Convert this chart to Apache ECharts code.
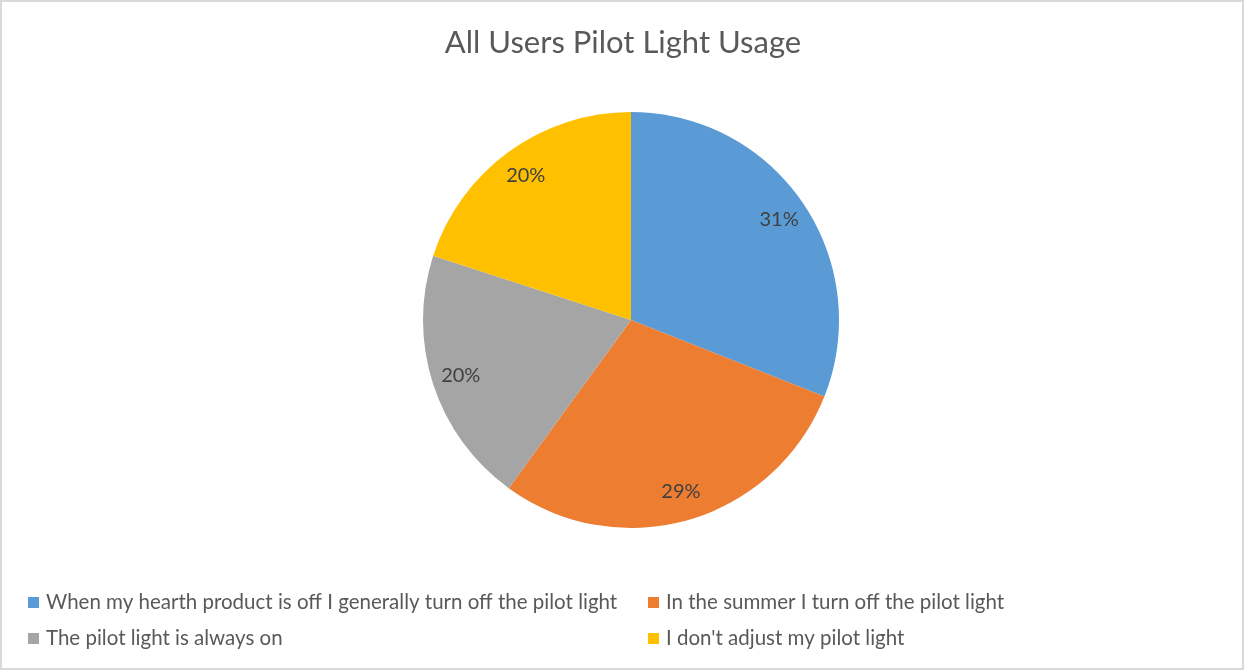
<!DOCTYPE html>
<html>
<head>
<meta charset="utf-8">
<title>All Users Pilot Light Usage</title>
<script src="https://cdn.jsdelivr.net/npm/echarts@6/dist/echarts.min.js"></script>
<style>
  html, body { margin: 0; padding: 0; background: #ffffff; }
  #chart { width: 1246px; height: 672px; }
</style>
</head>
<body>
<div id="chart"></div>
<script>
// Survey answers and their share of respondents (percent)
const categories = [
  'When my hearth product is off I generally turn off the pilot light',
  'In the summer I turn off the pilot light',
  'The pilot light is always on',
  "I don't adjust my pilot light"
];
const shares = [31, 29, 20, 20];
const sliceColors = ['#5B9BD5', '#ED7D31', '#A5A5A5', '#FFC000'];
const titleText = 'All Users Pilot Light Usage';

const FONT = 'Lato, "Open Sans", sans-serif';
const pieCenter = [631, 320];
const pieRadius = 208;

const data = categories.map((name, i) => ({
  name: name,
  value: shares[i],
  itemStyle: { color: sliceColors[i] }
}));

// Legend laid out as a 2x2 grid below the pie
const legendSlots = [
  { left: 28, top: 592 },
  { left: 648, top: 592 },
  { left: 28, top: 628 },
  { left: 648, top: 628 }
];
const legends = categories.map((name, i) => ({
  data: [name],
  left: legendSlots[i].left,
  top: legendSlots[i].top,
  orient: 'horizontal',
  padding: 0,
  icon: 'rect',
  itemWidth: 11,
  itemHeight: 11,
  itemStyle: { borderWidth: 0 },
  selectedMode: false,
  textStyle: {
    fontFamily: FONT,
    fontSize: 20.5,
    color: '#595959',
    padding: [0, 0, 0, 2]
  }
}));

const chart = echarts.init(document.getElementById('chart'), null, { renderer: 'canvas' });

chart.setOption({
  animation: false,
  backgroundColor: '#ffffff',
  title: {
    text: titleText,
    left: 'center',
    top: 22,
    textStyle: {
      fontFamily: FONT,
      fontSize: 31,
      fontWeight: 'normal',
      color: '#595959'
    }
  },
  legend: legends,
  graphic: [{
    type: 'rect',
    silent: true,
    z: -1,
    shape: { x: 1, y: 1, width: 1242, height: 668 },
    style: { fill: 'none', stroke: '#d9d9d9', lineWidth: 2 }
  }],
  series: [
    {
      // the slices
      type: 'pie',
      center: pieCenter,
      radius: [0, pieRadius],
      startAngle: 90,
      clockwise: true,
      label: { show: false },
      labelLine: { show: false },
      itemStyle: { borderWidth: 0 },
      emphasis: { disabled: true },
      data: data
    },
    {
      // transparent ring that carries the percentage labels near the rim
      type: 'pie',
      center: pieCenter,
      radius: [150, 202],
      startAngle: 90,
      clockwise: true,
      silent: true,
      legendHoverLink: false,
      itemStyle: { color: 'rgba(0,0,0,0)', borderWidth: 0 },
      emphasis: { disabled: true },
      label: {
        show: true,
        position: 'inside',
        formatter: p => p.value + '%',
        fontFamily: FONT,
        fontSize: 20,
        color: '#404040'
      },
      labelLine: { show: false },
      data: categories.map((name, i) => ({ name: name, value: shares[i] }))
    }
  ]
});
</script>
</body>
</html>
